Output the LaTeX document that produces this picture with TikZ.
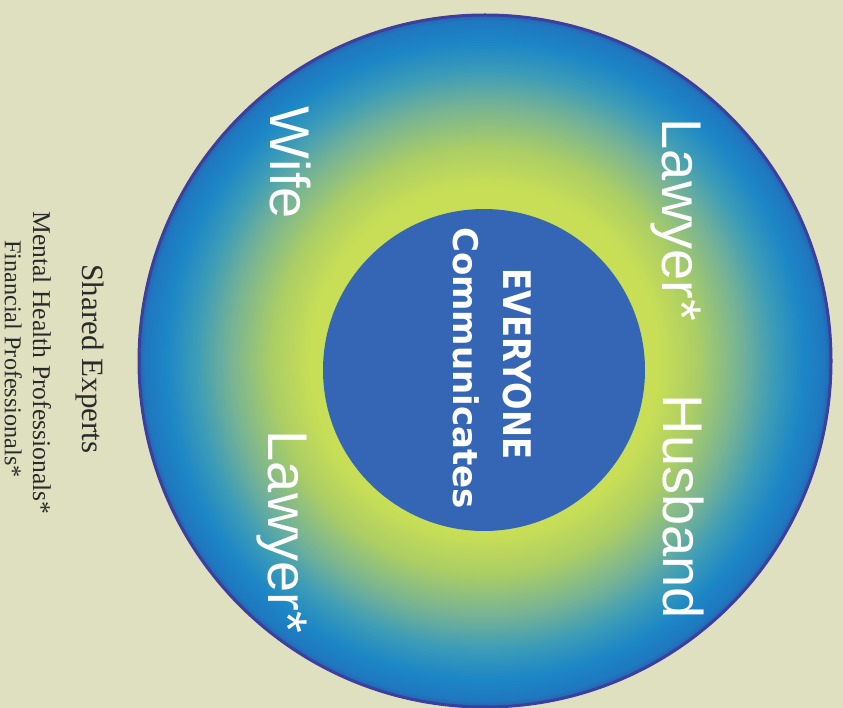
\documentclass[tikz,border=0pt]{standalone}
\usepackage{fontspec}
\setmainfont{Liberation Serif}
\newfontfamily\labelfont{Liberation Sans}
\newfontfamily\centerfont{DejaVu Sans}
\definecolor{bgcol}{HTML}{DFE0C0}
\definecolor{ringcol}{HTML}{3C3F9E}
\definecolor{corecol}{HTML}{3566B5}
\definecolor{ygA}{HTML}{C8DE56}
\definecolor{ygB}{HTML}{AACD66}
\definecolor{tealA}{HTML}{78B494}
\definecolor{tealB}{HTML}{3C9CB8}
\definecolor{blueA}{HTML}{1C86C6}
\definecolor{blueB}{HTML}{1F78C0}
\definecolor{blueC}{HTML}{2A62B0}
\definecolor{txtgray}{HTML}{2A2A2A}
\tikzset{
  rolelabel/.style={font=\labelfont\fontsize{56}{60}\selectfont, text=white, rotate=-90, anchor=base, inner sep=0pt},
  corelabel/.style={text=white, rotate=-90, anchor=base, inner sep=0pt},
  sidelabel/.style={text=txtgray, rotate=-90, anchor=base, inner sep=0pt}
}
\begin{document}
\begin{tikzpicture}[x=1pt,y=-1pt]
\fill[bgcol] (0,0) rectangle (843,708);
\useasboundingbox (0,0) rectangle (843,708);
\coordinate (ctr) at (485,361);
\foreach \ro/\ri/\co/\ci in {347/340/blueC/blueB, 340/320/blueB/blueA, 320/290/blueA/tealB, 290/255/tealB/tealA, 255/215/tealA/ygB, 215/175/ygB/ygA}{
  \foreach \k in {0,...,20}{
    \pgfmathsetmacro\rr{\ro-(\ro-\ri)*\k/20}
    \pgfmathsetmacro\pp{100*(20-\k)/20}
    \fill[\co!\pp!\ci] (ctr) circle (\rr);
  }
}
\fill[ygA] (ctr) circle (175);
\draw[ringcol, line width=3pt] (ctr) circle (346);
\node[circle, fill=corecol, minimum size=322pt, inner sep=0pt] (core) at (484,370) {};
\node[corelabel, font=\centerfont\bfseries\fontsize{38}{40}\selectfont] (every) at (503,364) {\scalebox{0.85}[1]{EVERYONE}};
\node[corelabel, font=\centerfont\bfseries\fontsize{34}{36}\selectfont] (comm) at (453,368) {Communicates};
\node[rolelabel] (lawyerR) at (662,220) {Lawyer*};
\node[rolelabel] (husband) at (663,507) {Husband};
\node[rolelabel] (wife) at (270,163) {Wife};
\node[rolelabel] (lawyerL) at (268,532) {Lawyer*};
\node[sidelabel, font=\fontsize{31}{33}\selectfont] (shared) at (82,359) {Shared Experts};
\node[sidelabel, font=\fontsize{25.6}{27}\selectfont] (mental) at (33,363) {Mental Health Professionals*};
\node[sidelabel, font=\fontsize{24.2}{26}\selectfont] (financial) at (5,359) {Financial Professionals*};
\end{tikzpicture}
\end{document}
